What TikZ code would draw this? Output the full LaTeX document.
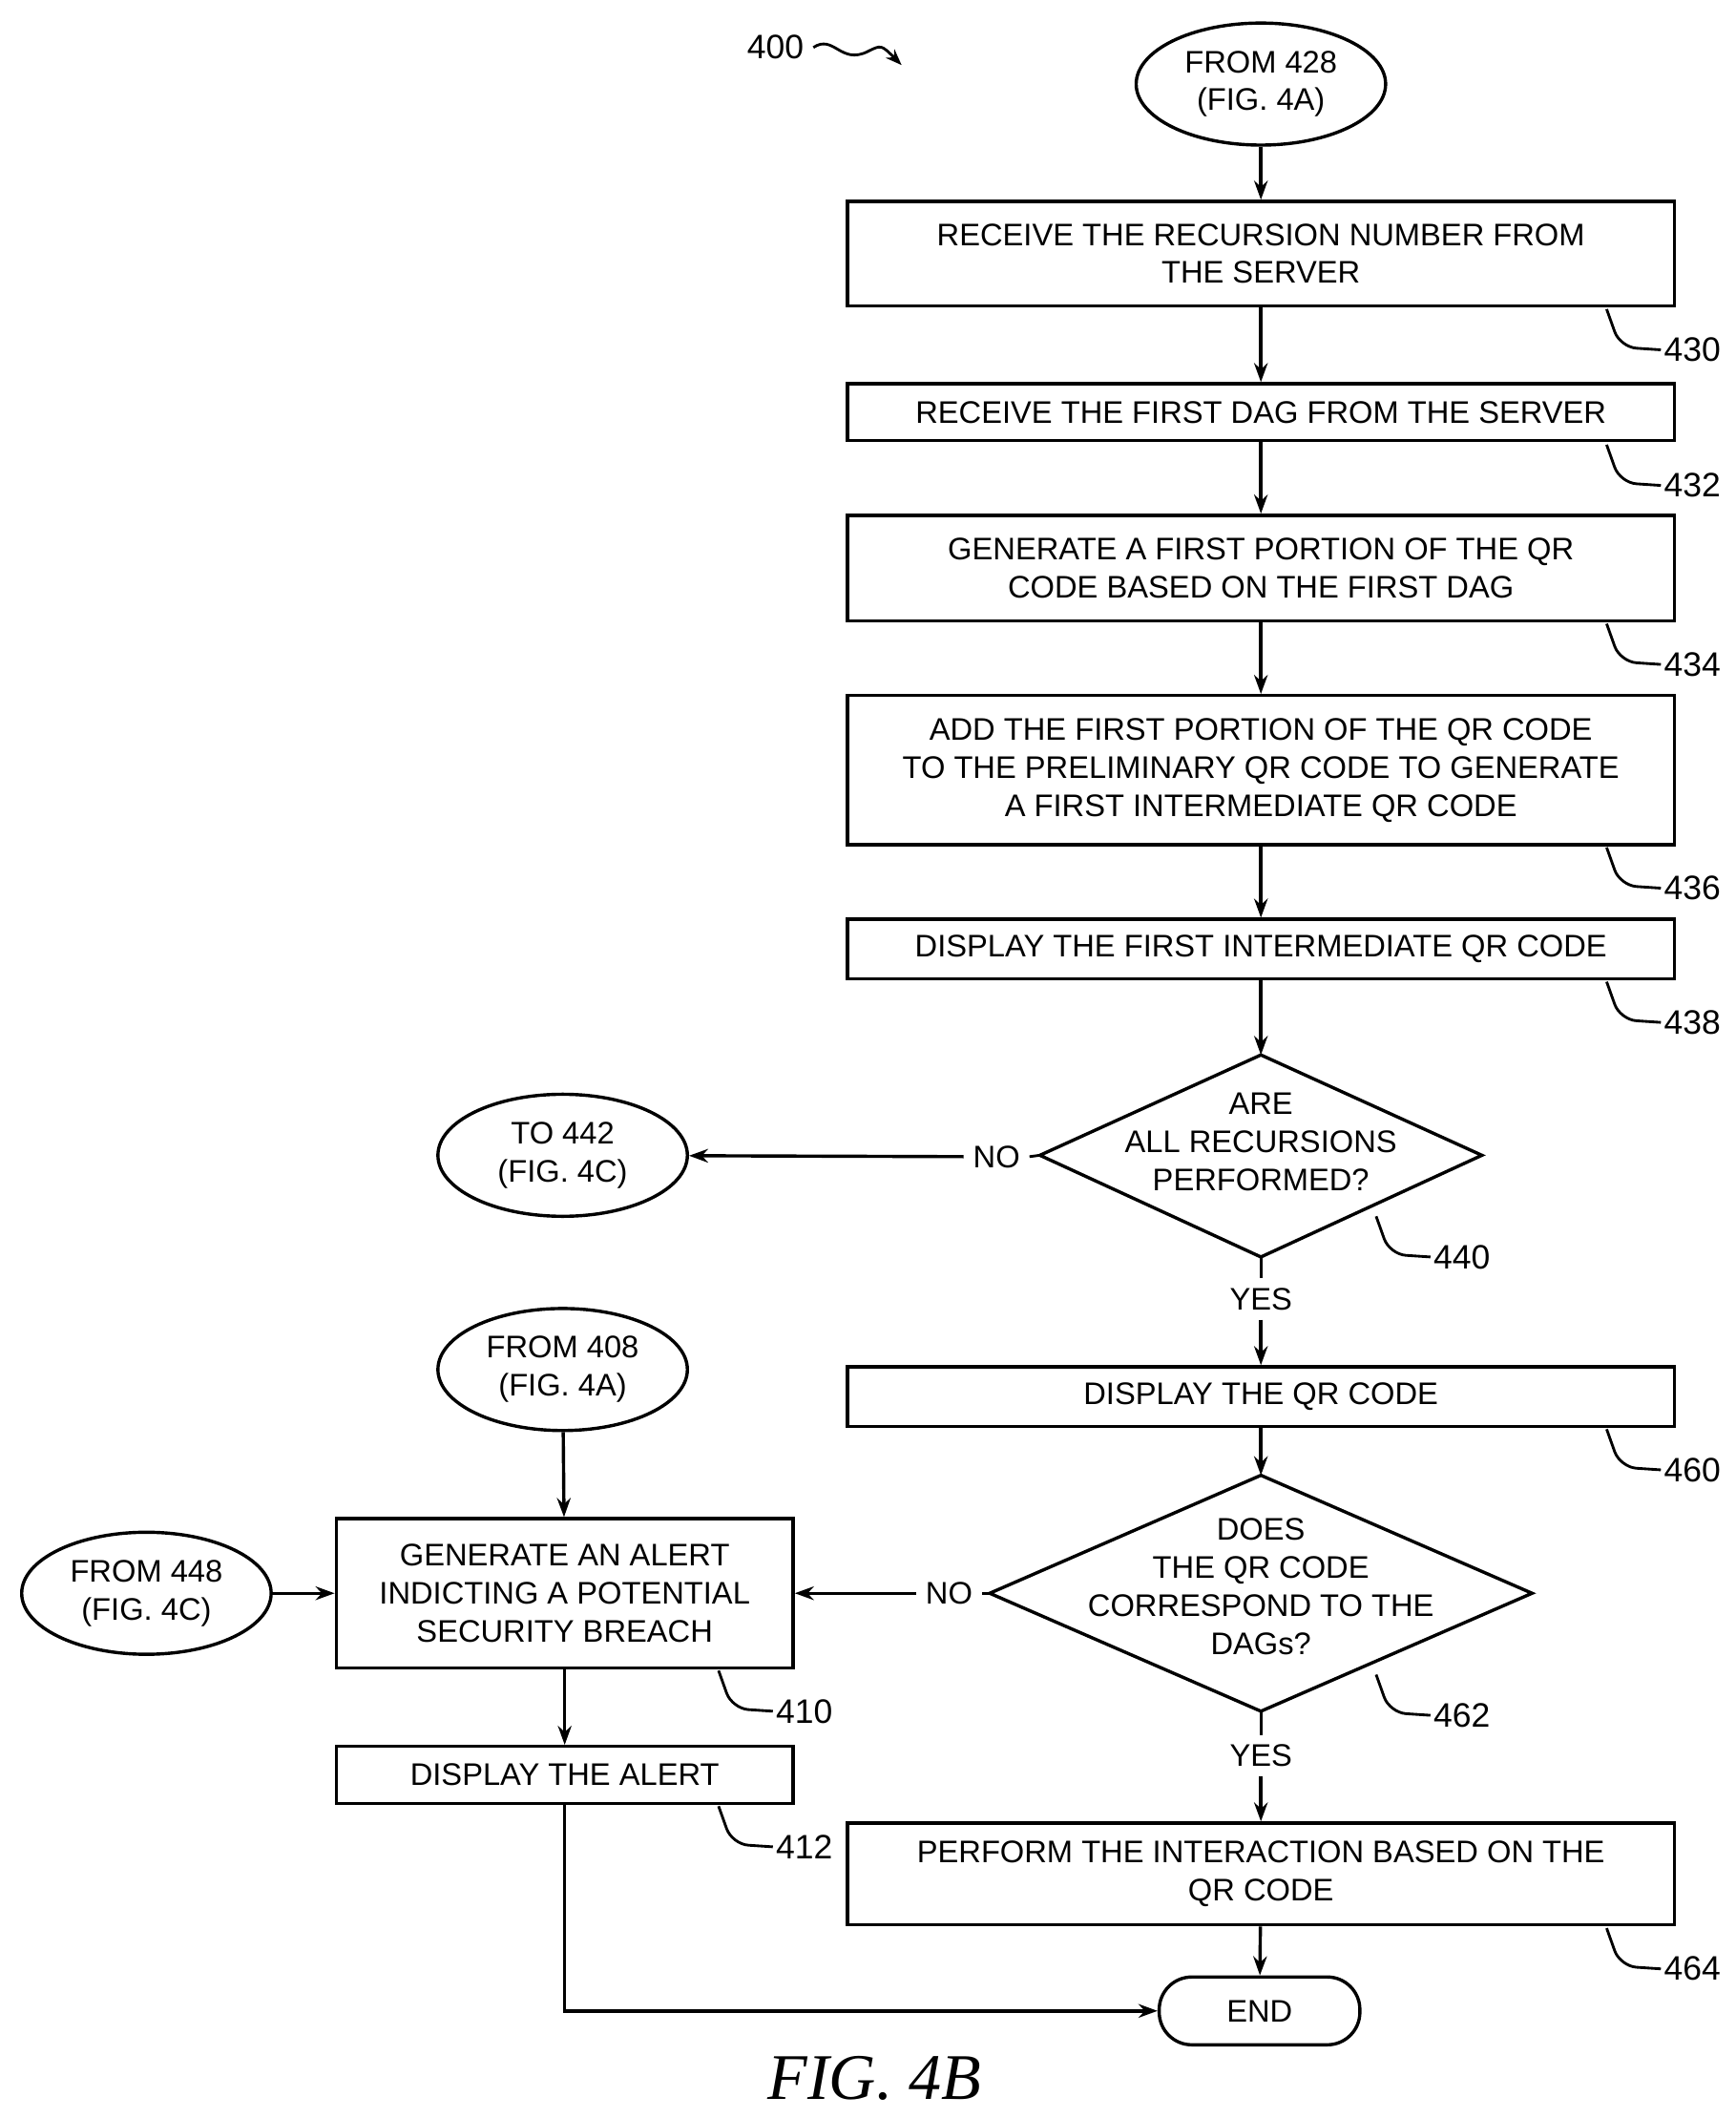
\documentclass[tikz,border=0pt]{standalone}
\usepackage{fontspec}
\setmainfont{Liberation Sans}
\newfontfamily\figfont{Liberation Serif}
\usetikzlibrary{shapes.geometric,arrows.meta}
\begin{document}
\begin{tikzpicture}[x=0.5pt,y=-0.5pt,
  every node/.style={font=\fontsize{11.5}{14}\selectfont},
  box/.style={draw,line width=1.2pt,align=center,inner sep=0pt},
  ell/.style={draw,ellipse,line width=1.2pt,minimum width=92pt,minimum height=45pt,align=center,inner sep=0pt},
  arr/.style={line width=1.2pt,-{Stealth[length=7pt,width=5pt]}},
  ln/.style={line width=1pt},
  lab/.style={anchor=west,inner sep=1pt,font=\fontsize{12.5}{14}\selectfont}]
\useasboundingbox (0,0) rectangle (1280,1562);
\node[box,minimum width=305pt,minimum height=38.5pt] (b430) at (930,187) {RECEIVE THE RECURSION NUMBER FROM\\THE SERVER};
\node[box,minimum width=305pt,minimum height=21pt] (b432) at (930,304) {RECEIVE THE FIRST DAG FROM THE SERVER};
\node[box,minimum width=305pt,minimum height=39pt] (b434) at (930,419) {GENERATE A FIRST PORTION OF THE QR\\CODE BASED ON THE FIRST DAG};
\node[box,minimum width=305pt,minimum height=55pt] (b436) at (930,568) {ADD THE FIRST PORTION OF THE QR CODE\\TO THE PRELIMINARY QR CODE TO GENERATE\\A FIRST INTERMEDIATE QR CODE};
\node[box,minimum width=305pt,minimum height=22pt] (b438) at (930,700) {DISPLAY THE FIRST INTERMEDIATE QR CODE};
\node[ell] (e428) at (930,62) {FROM 428\\(FIG. 4A)};
\draw[line width=1.2pt] (930,778) coordinate (d440t) -- (1093,852) coordinate (d440r) -- (930,927) coordinate (d440b) -- (767,852) coordinate (d440l) -- cycle;
\node[align=center] (t440) at (930,842) {ARE\\ALL RECURSIONS\\PERFORMED?};
\node[ell] (e442) at (415,852) {TO 442\\(FIG. 4C)};
\node (no1) at (735,853) {NO};
\node (yes1) at (930,958) {YES};
\node[box,minimum width=305pt,minimum height=22pt] (b460) at (930,1030) {DISPLAY THE QR CODE};
\draw[line width=1.2pt] (930,1088) coordinate (d462t) -- (1130,1175) coordinate (d462r) -- (930,1262) coordinate (d462b) -- (730,1175) coordinate (d462l) -- cycle;
\node[align=center] (t462) at (930,1170) {DOES\\THE QR CODE\\CORRESPOND TO THE\\DAGs?};
\node (no2) at (700,1175) {NO};
\node (yes2) at (930,1295) {YES};
\node[box,minimum width=168.5pt,minimum height=55pt] (b410) at (416.5,1175) {GENERATE AN ALERT\\INDICTING A POTENTIAL\\SECURITY BREACH};
\node[ell] (e408) at (415,1010) {FROM 408\\(FIG. 4A)};
\node[ell] (e448) at (108,1175) {FROM 448\\(FIG. 4C)};
\node[box,minimum width=168.5pt,minimum height=21pt] (b412) at (416.5,1309) {DISPLAY THE ALERT};
\node[box,minimum width=305pt,minimum height=37.5pt] (b464) at (930,1382) {PERFORM THE INTERACTION BASED ON THE\\QR CODE};
\node[draw,line width=1.2pt,rounded corners=12pt,minimum width=74pt,minimum height=25pt] (end) at (929,1483) {END};
\node[font=\fontsize{24}{28}\figfont\itshape] (fig) at (645,1533) {FIG. 4B};
\draw[arr] (e428) -- (b430);
\draw[arr] (b430) -- (b432);
\draw[arr] (b432) -- (b434);
\draw[arr] (b434) -- (b436);
\draw[arr] (b436) -- (b438);
\draw[arr] (b438) -- (d440t);
\draw[ln] (d440l) -- (no1.east);
\draw[arr] (no1.west) -- (e442);
\draw[ln] (d440b) -- (yes1.north);
\draw[arr] (yes1.south) -- (b460);
\draw[arr] (b460) -- (d462t);
\draw[ln] (d462l) -- (no2.east);
\draw[arr] (no2.west) -- (b410);
\draw[ln] (d462b) -- (yes2.north);
\draw[arr] (yes2.south) -- (b464);
\draw[arr] (b464) -- (end);
\draw[arr] (e408) -- (b410);
\draw[arr] (e448) -- (b410);
\draw[arr] (b410) -- (b412);
\draw[arr] (b412.south) |- (end.west);
\node[font=\fontsize{12.5}{14}\selectfont] (l400) at (572,35) {400};
\draw[ln,-{Stealth[length=6pt]}] (l400.east) .. controls (615,25) and (620,48) .. (640,38) .. controls (650,33) .. (665,48);
\foreach \n/\x/\y in {430/1185/228,432/1185/328,434/1185/460,436/1185/625,438/1185/724,460/1185/1054,464/1185/1422,440/1015/897,462/1015/1235,410/530/1232,412/530/1332}{
  \node[lab] (lab\n) at (\x+40,\y+30) {\n};
  \draw[ln,rounded corners=6pt] (\x,\y) -- (\x+10,\y+28) -- (lab\n.west);
}
\end{tikzpicture}
\end{document}
